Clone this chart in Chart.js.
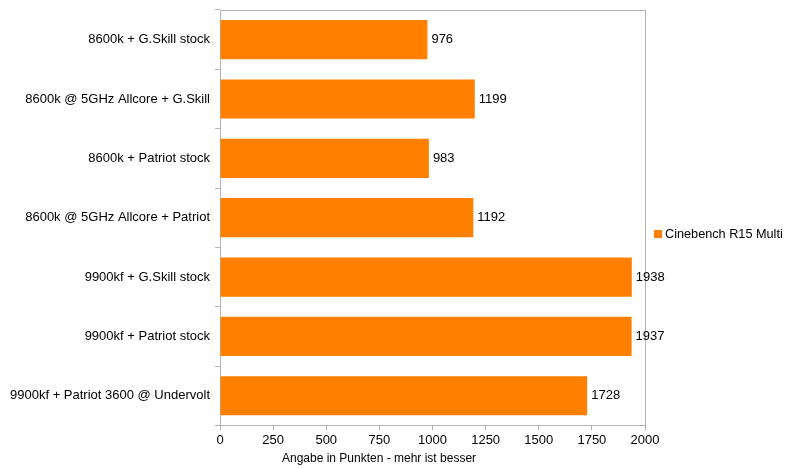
<!DOCTYPE html>
<html>
<head>
<meta charset="utf-8">
<script src="https://cdn.jsdelivr.net/npm/chart.js@4/dist/chart.umd.min.js"></script>
<style>
  html, body { margin: 0; padding: 0; background: #fff; }
  #wrap { width: 795px; height: 469px; }
</style>
</head>
<body>
<div id="wrap"><canvas id="myChart"></canvas></div>
<script>
const labels = [
  '8600k + G.Skill stock',
  '8600k @ 5GHz Allcore + G.Skill',
  '8600k + Patriot stock',
  '8600k @ 5GHz Allcore + Patriot',
  '9900kf + G.Skill stock',
  '9900kf + Patriot stock',
  '9900kf + Patriot 3600 @ Undervolt'
];

const scores = [976, 1199, 983, 1192, 1938, 1937, 1728];

const seriesName = 'Cinebench R15 Multi';
const axisTitle = 'Angabe in Punkten - mehr ist besser';
const barColor = '#ff8000';

Chart.defaults.font.family = '"Liberation Sans", Arial, sans-serif';
Chart.defaults.font.size = 13;
Chart.defaults.color = '#000';

// box around the plot, value labels, axis title, legend
const extras = {
  id: 'extras',
  afterDatasetsDraw(chart) {
    const ctx = chart.ctx;
    const a = chart.chartArea;
    ctx.save();
    ctx.strokeStyle = '#b3b3b3';
    ctx.lineWidth = 1;
    ctx.beginPath();
    ctx.moveTo(a.left, a.top + 0.5);
    ctx.lineTo(a.right + 0.5, a.top + 0.5);
    ctx.lineTo(a.right + 0.5, a.bottom);
    ctx.stroke();

    ctx.fillStyle = '#000';
    ctx.font = '13px "Liberation Sans", Arial, sans-serif';
    ctx.textBaseline = 'middle';
    ctx.textAlign = 'left';
    chart.getDatasetMeta(0).data.forEach((bar, i) => {
      ctx.fillText(String(scores[i]), bar.x + 4, bar.y);
    });

    // legend
    const ly = 234;
    ctx.fillStyle = barColor;
    ctx.fillRect(a.right + 9, ly - 4, 8, 8);
    ctx.fillStyle = '#000';
    ctx.font = '12.7px "Liberation Sans", Arial, sans-serif';
    ctx.fillText(seriesName, a.right + 20, ly);

    ctx.font = '12px "Liberation Sans", Arial, sans-serif';
    ctx.textAlign = 'center';
    ctx.textBaseline = 'alphabetic';
    ctx.fillText(axisTitle, 379, 462);
    ctx.restore();
  }
};

const data = {
  labels: labels,
  datasets: [{
    label: seriesName,
    data: scores,
    backgroundColor: barColor,
    borderWidth: 0,
    barPercentage: 0.66,
    categoryPercentage: 1
  }]
};

const config = {
  type: 'bar',
  data: data,
  options: {
    indexAxis: 'y',
    responsive: true,
    maintainAspectRatio: false,
    animation: false,
    layout: {
      padding: { top: 10, right: 150, bottom: 19, left: 5 }
    },
    scales: {
      x: {
        min: 0,
        max: 2000,
        ticks: {
          stepSize: 250,
          padding: 2,
          color: '#000',
          callback: (v) => String(v)
        },
        grid: { drawOnChartArea: false, drawTicks: true, tickLength: 5, color: '#b3b3b3' },
        border: { color: '#b3b3b3' }
      },
      y: {
        afterFit: (scale) => { scale.paddingTop = 0; },
        ticks: { padding: 5, color: '#000' },
        grid: { offset: true, drawOnChartArea: false, drawTicks: true, tickLength: 5, color: '#b3b3b3' },
        border: { color: '#b3b3b3' }
      }
    },
    plugins: {
      legend: { display: false },
      tooltip: { enabled: false }
    }
  },
  plugins: [extras]
};

const myChart = new Chart(
  document.getElementById('myChart'),
  config
);
</script>
</body>
</html>
